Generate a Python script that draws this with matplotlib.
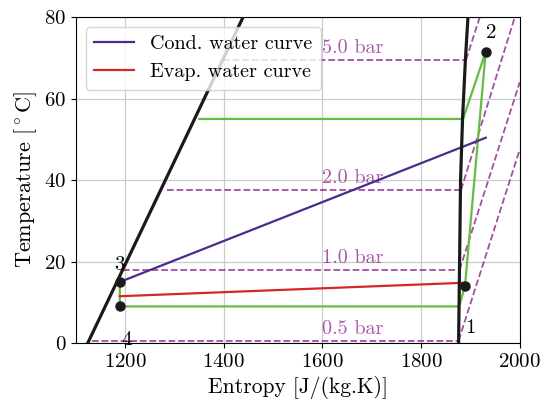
import matplotlib
matplotlib.use("Agg")
import matplotlib.pyplot as plt

plt.rcParams["font.family"] = "serif"
plt.rcParams["font.serif"] = ["cmr10"]
plt.rcParams["mathtext.fontset"] = "cm"
plt.rcParams["axes.formatter.use_mathtext"] = True

# saturation dome (entropy J/(kg.K), temperature C)
liq_s = [1124, 1439]
liq_T = [0, 80]
vap_s = [1876, 1878, 1880, 1884, 1890, 1895]
vap_T = [0, 20, 40, 55, 70, 80]

# isobars: label, saturation temp, start of horizontal, saturated vapour s, end of superheated line
bar_labels = ["0.5 bar", "1.0 bar", "2.0 bar", "5.0 bar"]
bar_Tsat = [0.6, 18.0, 37.6, 69.5]
bar_s_start = [1132, 1195, 1285, 1398]
bar_s_vap = [1876, 1878, 1881, 1891]
bar_s_end = [2000, 2000, 1990, 1919]
bar_T_end = [47.5, 64.0, 80.0, 80.0]

# heat pump cycle
cycle_s = [1189, 1189, 1877, 1889, 1931, 1885, 1350]
cycle_T = [15, 9, 9, 14, 71.5, 55, 55]

cond_s = [1189, 1931]
cond_T = [15, 50.4]
evap_s = [1189, 1886]
evap_T = [11.5, 14.8]

dot_s = [1189, 1189, 1889, 1931]
dot_T = [15, 9, 14, 71.5]

pt_labels = ["1", "2", "3", "4"]
pt_s = [1899, 1942, 1189, 1202]
pt_T = [3.7, 76.0, 19.2, 0.7]

fig, ax = plt.subplots(figsize=(5.5, 4.07), dpi=100)
fig.subplots_adjust(left=0.138, right=0.945, top=0.958, bottom=0.157)

iso_col = "purple"
for lab, T, s0, sv, se, Te in zip(bar_labels, bar_Tsat, bar_s_start, bar_s_vap, bar_s_end, bar_T_end):
    ax.plot([s0, sv], [T, T], "--", color=iso_col, alpha=0.7, lw=1.3, zorder=2)
    ax.plot([sv, se], [T, Te], "--", color=iso_col, alpha=0.7, lw=1.3, zorder=2)
    ax.text(1600, T + 0.6, lab, color=iso_col, alpha=0.65, fontsize=14.5,
            ha="left", va="bottom", zorder=2)

ax.plot(cycle_s, cycle_T, color="#66bb44", lw=1.6, zorder=3)
ax.plot(cond_s, cond_T, color="#4b2a8c", lw=1.6, label="Cond. water curve", zorder=4)
ax.plot(evap_s, evap_T, color="#d62728", lw=1.6, label="Evap. water curve", zorder=4)

ax.plot(liq_s, liq_T, color="#1a1a1a", lw=2.3, zorder=5)
ax.plot(vap_s, vap_T, color="#1a1a1a", lw=2.3, zorder=5)

ax.plot(dot_s, dot_T, "o", color="#1a1a1a", ms=6.5, zorder=6)
for lab, s, T in zip(pt_labels, pt_s, pt_T):
    ax.text(s, T, lab, fontsize=15, ha="center", va="center", zorder=6)

ax.set_xlim(1100, 2000)
ax.set_ylim(0, 80)
ax.set_xticks([1200, 1400, 1600, 1800, 2000])
ax.set_yticks([0, 20, 40, 60, 80])
ax.tick_params(labelsize=15)
ax.set_xlabel("Entropy [J/(kg.K)]", fontsize=15.5)
ax.set_ylabel(r"Temperature [$^\circ$C]", fontsize=16)
ax.grid(True, color="#cccccc", lw=0.9)
ax.set_axisbelow(True)
ax.legend(loc="upper left", fontsize=14.5)

fig.savefig("out.png", dpi=100)
